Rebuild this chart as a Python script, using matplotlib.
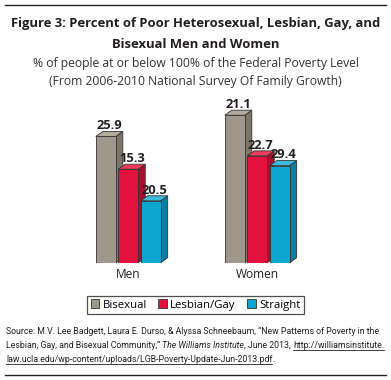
import matplotlib
matplotlib.use("Agg")
import matplotlib.pyplot as plt
from matplotlib.patches import Polygon, Patch
from matplotlib.lines import Line2D
from matplotlib import font_manager

# ---- data ----
groups = ["Men", "Women"]
series = ["Bisexual", "Lesbian/Gay", "Straight"]
men_values = [25.9, 20.5, 15.3]
women_values = [29.4, 22.7, 21.1]
# value labels exactly as printed on the original figure
men_labels = ["25.9", "15.3", "20.5"]
women_labels = ["21.1", "22.7", "29.4"]

face_colors = ["#a0978c", "#e2113d", "#0ca6d0"]
side_colors = ["#7d7468", "#a90f2c", "#0a7fa1"]
top_colors = ["#b4ab9f", "#ee3a5c", "#3cbbe0"]

W, H = 391, 380
fig = plt.figure(figsize=(W / 100, H / 100), dpi=100)
fig.patch.set_facecolor("white")
renderer = fig.canvas.get_renderer()


def fx(px):
    return px / W


def fy(py):
    return 1 - py / H


names = {f.name for f in font_manager.fontManager.ttflist}
title_font = "Open Sans" if "Open Sans" in names else "DejaVu Sans"
note_font = "Roboto" if "Roboto" in names else "DejaVu Sans"


def fit_text(x, y, s, target_px, **kw):
    # shrink/grow the font so the line spans target_px like the reference
    t = fig.text(x, y, s, **kw)
    w = t.get_window_extent(renderer).width
    t.set_fontsize(t.get_fontsize() * target_px / w)
    return t


# ---- frame lines ----
fig.add_artist(Line2D([fx(5), fx(386)], [fy(5), fy(5)], color="#222222", lw=1.0))
fig.add_artist(Line2D([fx(5), fx(386)], [fy(375), fy(375)], color="#222222", lw=1.0))

# ---- titles ----
fit_text(0.5, fy(24), "Figure 3: Percent of Poor Heterosexual, Lesbian, Gay, and", 371,
         ha="center", va="center", fontsize=10, fontweight="bold",
         family=title_font, color="#231f20")
fit_text(0.5, fy(44), "Bisexual Men and Women", 168, ha="center", va="center",
         fontsize=10, fontweight="bold", family=title_font, color="#231f20")
fit_text(0.5, fy(63), "% of people at or below 100% of the Federal Poverty Level", 331,
         ha="center", va="center", fontsize=9, family=title_font, color="#333333")
fit_text(0.5, fy(81), "(From 2006-2010 National Survey Of Family Growth)", 296,
         ha="center", va="center", fontsize=9, family=title_font, color="#333333")

# ---- bars ----
base_px, top_px = 262.7, 100
y0 = 5.1
px_per_unit = 6.07
ax = fig.add_axes([fx(80), fy(base_px), fx(310) - fx(80), (base_px - top_px) / H])
ax.set_xlim(-0.374, 1.409)
ax.set_ylim(y0, y0 + (base_px - top_px) / px_per_unit)
ax.axis("off")

width = 0.155
step = 0.174
dx = 7 / 129
dy = 5 / px_per_unit

all_values = [men_values, women_values]
all_labels = [men_labels, women_labels]
for gi, (vals, labs) in enumerate(zip(all_values, all_labels)):
    for si, (v, lab) in enumerate(zip(vals, labs)):
        xc = gi + (si - 1) * step
        ax.bar(xc, v - y0, bottom=y0, width=width, color=face_colors[si],
               edgecolor="#333333", linewidth=0.6, zorder=3)
        xr = xc + width / 2
        xl = xc - width / 2
        side = Polygon([(xr, y0), (xr + dx, y0 + dy), (xr + dx, v + dy), (xr, v)],
                       closed=True, facecolor=side_colors[si], edgecolor="#333333",
                       linewidth=0.6, zorder=2)
        top = Polygon([(xl, v), (xr, v), (xr + dx, v + dy), (xl + dx, v + dy)],
                      closed=True, facecolor=top_colors[si], edgecolor="#333333",
                      linewidth=0.6, zorder=4)
        ax.add_patch(side)
        ax.add_patch(top)
        ax.text(xc + dx / 2, v + dy + 0.35, lab, ha="center", va="baseline",
                fontsize=9.3, fontweight="bold", family=title_font, color="#231f20",
                zorder=5)
    fig.text(fx(128.5 + gi * 128.5), fy(274), groups[gi], ha="center", va="center",
             fontsize=8.6, family=title_font, color="#231f20")

# ---- legend ----
handles = [Patch(facecolor=face_colors[i], edgecolor="#333333", linewidth=0.6)
           for i in range(3)]
leg = fig.legend(handles, series, loc="center", bbox_to_anchor=(fx(195.5), fy(305)),
                 ncol=3, frameon=True, fancybox=False,
                 prop={"family": title_font, "size": 8.2},
                 handlelength=0.75, handleheight=0.75, handletextpad=0.3,
                 columnspacing=1.0, borderpad=0.3, borderaxespad=0,
                 edgecolor="#222222")
leg.get_frame().set_linewidth(0.9)

# ---- source note, built run by run ----


def runs(x_px, y_px, pieces, size):
    x = x_px
    for txt, style, underline in pieces:
        t = fig.text(fx(x), fy(y_px), txt, ha="left", va="baseline",
                     fontsize=size, family=note_font, style=style, color="#231f20")
        bb = t.get_window_extent(renderer)
        if underline:
            fig.add_artist(Line2D([bb.x0 / W, bb.x1 / W], [fy(y_px + 1.8)] * 2,
                                  color="#231f20", lw=0.6))
        x += bb.width


line1 = "Source: M.V. Lee Badgett, Laura E. Durso, & Alyssa Schneebaum, \u201cNew Patterns of Poverty in the"
probe = fig.text(0, 0, line1, fontsize=8, family=note_font)
note_size = 8 * 376 / probe.get_window_extent(renderer).width
probe.remove()

runs(6, 334, [(line1, "normal", False)], note_size)
runs(6, 348, [("Lesbian, Gay, and Bisexual Community,\u201d ", "normal", False),
              ("The Williams Institute", "italic", False),
              (", June 2013, ", "normal", False),
              ("http://williamsinstitute.", "normal", True)], note_size)
runs(6, 362, [("law.ucla.edu/wp-content/uploads/LGB-Poverty-Update-Jun-2013.pdf", "normal", True),
              (".", "normal", False)], note_size)

fig.savefig("out.png", dpi=100)
